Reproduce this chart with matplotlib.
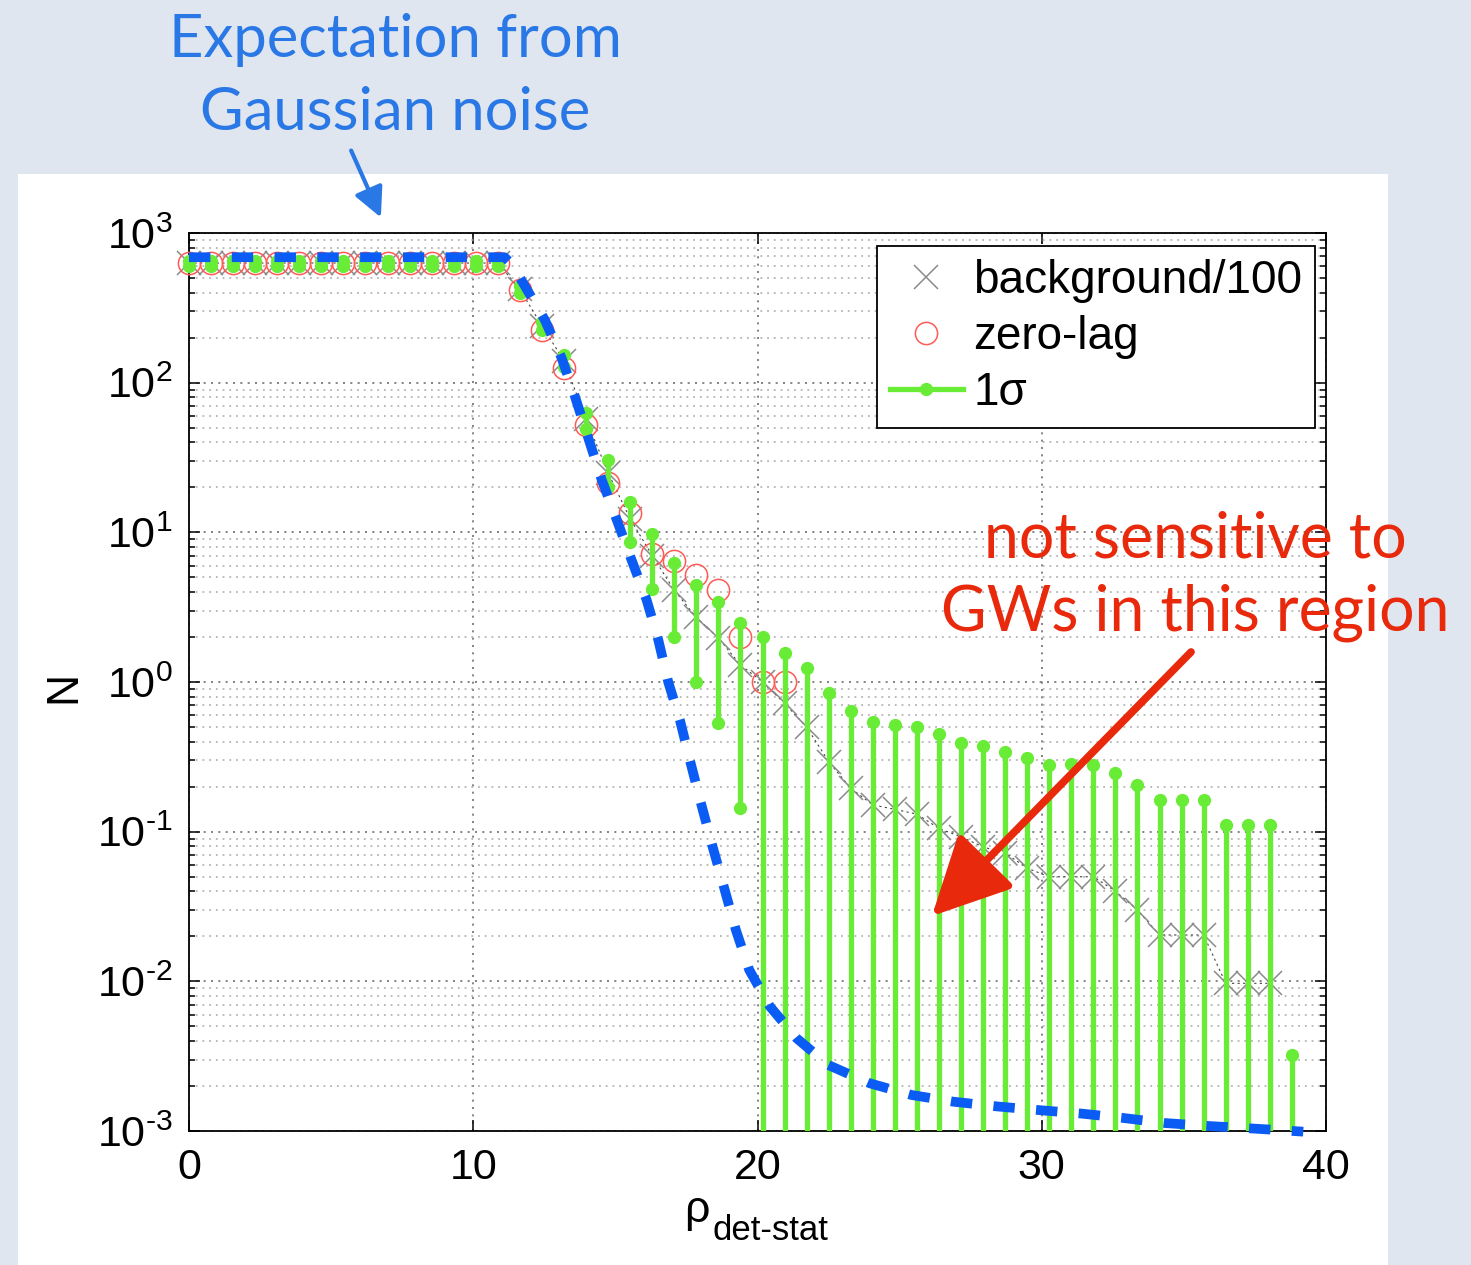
import numpy as np
import matplotlib
matplotlib.use("Agg")
import matplotlib.pyplot as plt
from matplotlib.lines import Line2D
from matplotlib.patches import Rectangle, FancyArrowPatch
from matplotlib.ticker import LogLocator, FixedLocator, FixedFormatter, NullFormatter

plt.rcParams['font.family'] = ['Liberation Sans', 'DejaVu Sans']
plt.rcParams['mathtext.fontset'] = 'custom'
plt.rcParams['mathtext.rm'] = 'Liberation Sans'

# ---- data -------------------------------------------------------------
# detection-statistic bins
rho = np.round(np.arange(51) * 0.776, 3)

# background triggers / 100 (cumulative counts above threshold)
background = [630, 630, 630, 630, 630, 630, 630, 630, 630, 630,
              630, 630, 630, 630, 630, 420, 240, 140, 57, 25,
              12.3, 7.0, 4.1, 2.7, 1.97, 1.3, 1.0, 0.72, 0.50, 0.294,
              0.195, 0.151, 0.141, 0.131, 0.105, 0.0925, 0.079, 0.072, 0.057, 0.050,
              0.050, 0.050, 0.040, 0.030, 0.0204, 0.0204, 0.0204, 0.0097, 0.0097, 0.0097,
              np.nan]

# zero-lag triggers
zero_lag = [630, 630, 630, 630, 630, 630, 630, 630, 630, 630,
            630, 630, 630, 630, 630, 416, 225, 125, 52, 21.3,
            13.4, 7.2, 6.4, 5.2, 4.12, 2.01, 1.0, 1.0] + [np.nan] * 23

# 1-sigma band around the background expectation
sigma_hi = [655, 655, 655, 655, 655, 655, 655, 655, 655, 655,
            655, 655, 655, 655, 655, 440, 255, 152, 63, 30.5,
            16.0, 9.8, 6.2, 4.45, 3.44, 2.47, 2.01, 1.56, 1.235, 0.85,
            0.643, 0.543, 0.516, 0.503, 0.45, 0.394, 0.374, 0.339, 0.312, 0.281,
            0.284, 0.279, 0.245, 0.205, 0.164, 0.164, 0.164, 0.110, 0.110, 0.110,
            0.0032]
sigma_lo = [605, 605, 605, 605, 605, 605, 605, 605, 605, 605,
            605, 605, 605, 605, 605, 400, 225, 128, 49, 20,
            8.6, 4.2, 2.0, 1.0, 0.53, 0.143] + [0] * 25

# expected distribution for Gaussian noise
gauss_rho = [0, 11.1, 11.35, 11.76, 12.52, 13.11, 13.58, 14.05, 14.52, 15.05,
             15.57, 16.10, 16.51, 16.86, 17.27, 17.62, 17.98, 18.42, 18.83, 19.24,
             19.71, 20.44, 21.38, 22.49, 23.96, 25.42, 26.89, 28.42, 29.88, 31.35,
             32.9, 34.34, 35.86, 37.39, 39.2]
gauss_n = [689, 689, 620, 461, 262, 146, 80.6, 42.5, 22.4, 12.1,
           6.53, 3.53, 1.91, 1.0, 0.557, 0.301, 0.163, 0.0794, 0.0419, 0.022,
           0.0119, 0.00678, 0.00416, 0.00276, 0.00208, 0.00174, 0.00157, 0.00146, 0.00138, 0.00131,
           0.00122, 0.00113, 0.00108, 0.00104, 0.00099]

yticks = [1e-3, 1e-2, 1e-1, 1e0, 1e1, 1e2, 1e3]
ytick_exp = ['\u20103', '\u20102', '\u20101', '0', '1', '2', '3']
xticks = [0, 10, 20, 30, 40]

# ---- styling ----------------------------------------------------------
W, H = 1471, 1265
GREEN = '#68ec36'
RED_MK = '#ff5a55'
GRAY_MK = '#8a8a8a'
BLUE_DASH = '#0a5cf5'
BLUE_TXT = '#2a78e6'
RED_TXT = '#e8290c'

fig = plt.figure(figsize=(W / 100, H / 100), dpi=100)
fig.patch.set_facecolor('#dfe6ef')
fig.add_artist(Rectangle((18 / W, 0), (1388 - 18) / W, (H - 174) / H,
                         transform=fig.transFigure, facecolor='white',
                         edgecolor='none', zorder=0))

ax = fig.add_axes([189 / W, 1 - 1131 / H, (1326 - 189) / W, (1131 - 233) / H])
ax.set_yscale('log')
ax.set_xlim(0, 40)
ax.set_ylim(1e-3, 1e3)
ax.set_axisbelow(True)

ax.xaxis.set_major_locator(FixedLocator(xticks))
ax.yaxis.set_major_locator(FixedLocator(yticks))
ax.yaxis.set_major_formatter(FixedFormatter(
    [r'$\mathregular{10^{%s}}$' % e for e in ytick_exp]))
ax.yaxis.set_minor_locator(LogLocator(base=10, subs=np.arange(2, 10), numticks=20))
ax.yaxis.set_minor_formatter(NullFormatter())
ax.tick_params(which='both', direction='in', top=True, right=True,
               labelsize=31, width=1.1, colors='black')
ax.tick_params(which='major', length=8, pad=12)
ax.tick_params(which='minor', length=4.5)
for s in ax.spines.values():
    s.set_linewidth(1.3)

ax.grid(True, which='major', axis='both', color='#6e6e6e',
        linestyle=(0, (1.2, 3.2)), linewidth=1.2)
ax.grid(True, which='minor', axis='y', color='#a8a8a8',
        linestyle=(0, (1.2, 3.2)), linewidth=1.1)

bg = np.array(background, dtype=float)
zl = np.array(zero_lag, dtype=float)
hi = np.array(sigma_hi, dtype=float)
lo = np.array(sigma_lo, dtype=float)

# background: thin dark connecting line + grey crosses
ax.plot(rho, bg, color='#444444', lw=0.8, ls=(0, (2, 3)), zorder=2)
ax.plot(rho, bg, ls='none', marker='x', ms=17, mew=1.1, color=GRAY_MK,
        zorder=3, clip_on=False)
# zero-lag circles
ax.plot(rho, zl, ls='none', marker='o', ms=16, mfc='none', mew=1.1,
        mec=RED_MK, zorder=4, clip_on=False)
# 1-sigma stems
ax.vlines(rho, np.where(lo > 0, lo, 1e-9), hi, colors=GREEN, lw=3.8, zorder=5)
ax.plot(rho, hi, ls='none', marker='o', ms=8.5, color=GREEN, zorder=5,
        clip_on=False)
ax.plot(rho, np.where(lo > 0, lo, np.nan), ls='none', marker='o', ms=8.5,
        color=GREEN, zorder=5, clip_on=False)
# Gaussian-noise expectation
ax.plot(gauss_rho, gauss_n, color=BLUE_DASH, lw=7,
        ls=(0, (2.2, 2.2)), dash_capstyle='butt', zorder=6, clip_on=False)

handles = [
    Line2D([], [], ls='none', marker='x', ms=17, mew=1.1, color=GRAY_MK),
    Line2D([], [], ls='none', marker='o', ms=16, mfc='none', mew=1.1, mec=RED_MK),
    Line2D([], [], color=GREEN, lw=3.8, marker='o', ms=8.5),
]
leg = ax.legend(handles, ['background/100', 'zero-lag', '1σ'],
                loc='upper right', bbox_to_anchor=(0.9903, 0.9855),
                borderaxespad=0, fontsize=33, frameon=True, fancybox=False,
                edgecolor='black', framealpha=1, handlelength=1.6,
                handletextpad=0.22, labelspacing=0.26, borderpad=0.28)
leg.get_frame().set_linewidth(1.3)
leg.set_zorder(10)

# axis labels
fig.text(64 / W, 1 - 687 / H, 'N', rotation=90, fontsize=32,
         ha='center', va='center')
fig.text(684 / W, 1 - 1222 / H, 'ρ', fontsize=32, ha='left', va='baseline')
fig.text(712 / W, 1 - 1240 / H, 'det-stat', fontsize=25, ha='left', va='baseline')

# annotations
fig.text(395 / W, 1 - 57 / H, 'Expectation from', fontsize=43,
         family='Lato', color=BLUE_TXT, ha='center', va='baseline')
fig.text(395 / W, 1 - 130 / H, 'Gaussian noise', fontsize=43,
         family='Lato', color=BLUE_TXT, ha='center', va='baseline')
fig.add_artist(FancyArrowPatch(
    (350 / W, 1 - 148 / H), (382 / W, 1 - 220 / H),
    transform=fig.transFigure, arrowstyle='-|>,head_length=0.6,head_width=0.3',
    mutation_scale=30, lw=3, color=BLUE_TXT, zorder=20))

fig.text(1195 / W, 1 - 557 / H, 'not sensitive to', fontsize=45,
         family='Lato', color=RED_TXT, ha='center', va='baseline')
fig.text(1195 / W, 1 - 630 / H, 'GWs in this region', fontsize=45,
         family='Lato', color=RED_TXT, ha='center', va='baseline')
fig.add_artist(FancyArrowPatch(
    (1193 / W, 1 - 650 / H), (930 / W, 1 - 918 / H),
    transform=fig.transFigure, arrowstyle='-|>,head_length=2.4,head_width=1.2',
    mutation_scale=20, lw=5.5, color=RED_TXT, zorder=20))

fig.savefig('out.png', dpi=100, facecolor=fig.get_facecolor())
